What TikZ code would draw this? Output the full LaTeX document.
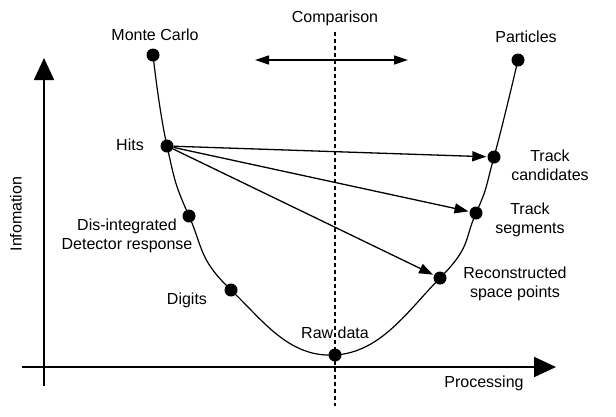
\documentclass[tikz,border=0pt]{standalone}
\usepackage{fontspec}
\setmainfont{Liberation Sans}
\usetikzlibrary{arrows.meta, positioning}

\begin{document}
\begin{tikzpicture}[
        x=1pt, y=-1pt,
        dot/.style={circle, fill=black, inner sep=0pt, minimum size=13pt},
        lbl/.style={align=center, font=\fontsize{16}{19}\selectfont, inner sep=0pt},
        axis/.style={line width=2pt, -{Triangle[length=22pt, width=20pt]}},
        arrow/.style={line width=1.3pt, -{Triangle[length=14pt, width=10pt]}, shorten >=1pt}
    ]
        \useasboundingbox (0,0) rectangle (616,416);

        % Axes
        \coordinate (yfoot) at (44,386);
        \coordinate (ytip) at (44,58);
        \coordinate (xfoot) at (22,367);
        \coordinate (xtip) at (556,367);
        \draw[axis] (yfoot) -- (ytip);
        \draw[axis] (xfoot) -- (xtip);
        \node[lbl, rotate=90] (info) at (16,214) {Infomation};
        \node[lbl] (proc) at (484,383) {Processing};

        % Comparison
        \coordinate (ctop) at (335,32);
        \coordinate (cbot) at (335,406);
        \draw[line width=2pt, dash pattern=on 4pt off 3pt] (ctop) -- (cbot);
        \node[lbl] (comp) at (335,18) {Comparison};
        \coordinate (cleft) at (255,60);
        \coordinate (cright) at (408,60);
        \draw[line width=1.3pt, {Triangle[length=14pt, width=9pt]}-{Triangle[length=14pt, width=9pt]}] (cleft) -- (cright);

        % Points
        \node[dot] (mc) at (153,55) {};
        \node[dot] (hits) at (167,146) {};
        \node[dot] (dis) at (189,216) {};
        \node[dot] (digits) at (231,290) {};
        \node[dot] (raw) at (335,355) {};
        \node[dot] (space) at (440,278) {};
        \node[dot] (seg) at (476,213) {};
        \node[dot] (cand) at (494,157) {};
        \node[dot] (part) at (518,60) {};

        % Labels
        \node[lbl] (mcl) at (155,35) {Monte Carlo};
        \node[lbl] (hitsl) at (130,145) {Hits};
        \node[lbl] (disl) at (127,236) {Dis-integrated\\Detector response};
        \node[lbl] (digitsl) at (187,300) {Digits};
        \node[lbl] (rawl) at (335,333) {Raw data};
        \node[lbl] (spacel) at (515,284) {Reconstructed\\space points};
        \node[lbl] (segl) at (530,220) {Track\\segments};
        \node[lbl] (candl) at (550,165) {Track\\candidates};
        \node[lbl] (partl) at (526,37) {Particles};

        % Curve
        \draw[line width=1.2pt] plot[smooth, tension=0.8] coordinates {(mc) (hits) (dis) (digits) (raw) (space) (seg) (cand) (part)};

        % Flow arrows
        \draw[arrow] (hits) -- (cand);
        \draw[arrow] (hits) -- (seg);
        \draw[arrow] (hits) -- (space);

    \end{tikzpicture}
\end{document}
